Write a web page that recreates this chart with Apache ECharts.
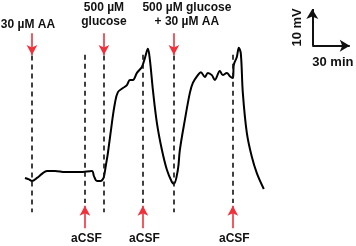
<!DOCTYPE html>
<html><head><meta charset="utf-8">
<script src="https://cdn.jsdelivr.net/npm/echarts@6/dist/echarts.min.js"></script>
<style>html,body{margin:0;padding:0;background:#fff}#c{width:356px;height:246px}</style>
</head><body><div id="c"></div>
<script>
// time (min) and potential (mV) of the recorded trace
const timeMin = [0,3.2,5.6,9.6,13.6,17.6,24,32,44,53.6,55.2,57.6,60.8,62.4,63.2,64.8,66.4,69.6,72,74.4,78.4,81.6,84,86.4,89.6,93.6,96,98.4,100,102.4,105.6,109.6,113.6,117.6,119.2,122.4,124,128,132,134.4,138.4,140.8,144,146.4,149.6,152,156,158.4,161.6,164,166.4,167.2,169.6,171.2,172.8,174.4,177.6,181.6,185.6,191.2];
const voltage = [0.9,0.5,0.1,0.9,2.0,2.8,2.8,2.5,2.5,2.8,1.4,0.1,0.1,0.6,1.2,4.4,7.7,15.8,21.1,24.1,25.2,26.0,27.4,27.4,29.3,30.9,33.3,35.8,32.8,24.7,15.8,8.5,3.1,-0.2,-0.7,3.1,8.5,16.6,23.9,26.6,28.7,29.5,28.2,29.3,28.7,27.4,29.8,28.7,29.3,28.4,27.9,31.5,33.6,36.1,34.5,23.9,13.1,6.6,2.2,-2.1];
// treatment events (time in min)
const addTimes = [5.6, 63.2, 119.2];
const addLabels = ['30 µM AA', '500 µM\nglucose', '500 µM glucose\n+ 30 µM AA'];
const washTimes = [48, 94.4, 166.4];
const washLabels = ['aCSF', 'aCSF', 'aCSF'];
// scale bar
const scaleTime = 30, scaleVolt = 10;
const scaleLabels = ['10 mV', '30 min'];

const sbT = 230, sbV = 36.6;
const fontStr = 'bold 12px "Liberation Sans", Arial, sans-serif';
const fontStr13 = 'bold 13px "Liberation Sans", Arial, sans-serif';
const red = '#f0303a';

const dashed = [];
addTimes.forEach(t => dashed.push([{coord:[t, 34]}, {coord:[t, -8.4]}]));
washTimes.forEach(t => dashed.push([{coord:[t, 34.2]}, {coord:[t, -5.9]}]));

const arrows = [];
addTimes.forEach(t => arrows.push([{coord:[t, 40]}, {coord:[t, 34.1]}]));
washTimes.forEach(t => arrows.push([{coord:[t, -12.7]}, {coord:[t, -6.6]}]));

const chart = echarts.init(document.getElementById('c'), null, {renderer:'canvas'});
chart.setOption({
  animation: false,
  grid: {left:0, right:0, top:0, bottom:0},
  xAxis: {type:'value', min:-20, max:265, show:false},
  yAxis: {type:'value', min:-17.5, max:49, show:false},
  series: [
    {type:'line', data: [], silent:true,
      markLine: {silent:true, symbol:['none','none'], label:{show:false},
        lineStyle:{color:'#111', width:1.6, type:[5,4]}, data: dashed}},
    {type:'line', data: [], silent:true,
      markLine: {silent:true, symbol:['none','arrow'], symbolSize:[8,10], label:{show:false},
        lineStyle:{color:red, width:1.6, type:'solid'}, data: arrows}},
    {type:'line', data: [], silent:true,
      markLine: {silent:true, symbol:['none','arrow'], symbolSize:[9,10], label:{show:false},
        lineStyle:{color:'#111', width:2, type:'solid'},
        data: [[{coord:[sbT, sbV]}, {coord:[sbT, sbV + scaleVolt]}],
               [{coord:[sbT, sbV]}, {coord:[sbT + scaleTime, sbV]}]]}},
    {type:'line', data: timeMin.map((t,i)=>[t, voltage[i]]), showSymbol:false, smooth:0.35,
      lineStyle:{color:'#000', width:2}, itemStyle:{color:'#000'}, silent:true}
  ]
});

// text labels anchored to data coordinates
const px = (t, v) => chart.convertToPixel({xAxisIndex:0, yAxisIndex:0}, [t, v]);
const texts = [];
const addPos = [[2.4, 42.3], [63.2, 45.0], [129.6, 45.0]];
addLabels.forEach((s, i) => {
  const p = px(addPos[i][0], addPos[i][1]);
  texts.push({type:'text', x:p[0], y:p[1], style:{text:s, font:fontStr, fill:'#111',
    align:'center', verticalAlign:'middle', lineHeight:14}});
});
washLabels.forEach((s, i) => {
  const p = px(washTimes[i] + 1.2, -15.6);
  texts.push({type:'text', x:p[0], y:p[1], style:{text:s, font:fontStr, fill:'#111',
    align:'center', verticalAlign:'middle'}});
});
{
  const p = px(sbT - 12, sbV + scaleVolt/2);
  texts.push({type:'text', x:p[0], y:p[1], rotation:Math.PI/2,
    style:{text:scaleLabels[0], font:fontStr13, fill:'#111', align:'center', verticalAlign:'middle'}});
  const q = px(sbT + scaleTime/2 + 1.5, sbV - 4.4);
  texts.push({type:'text', x:q[0], y:q[1],
    style:{text:scaleLabels[1], font:fontStr13, fill:'#111', align:'center', verticalAlign:'middle'}});
}
chart.setOption({graphic: {elements: texts}});
</script></body></html>
